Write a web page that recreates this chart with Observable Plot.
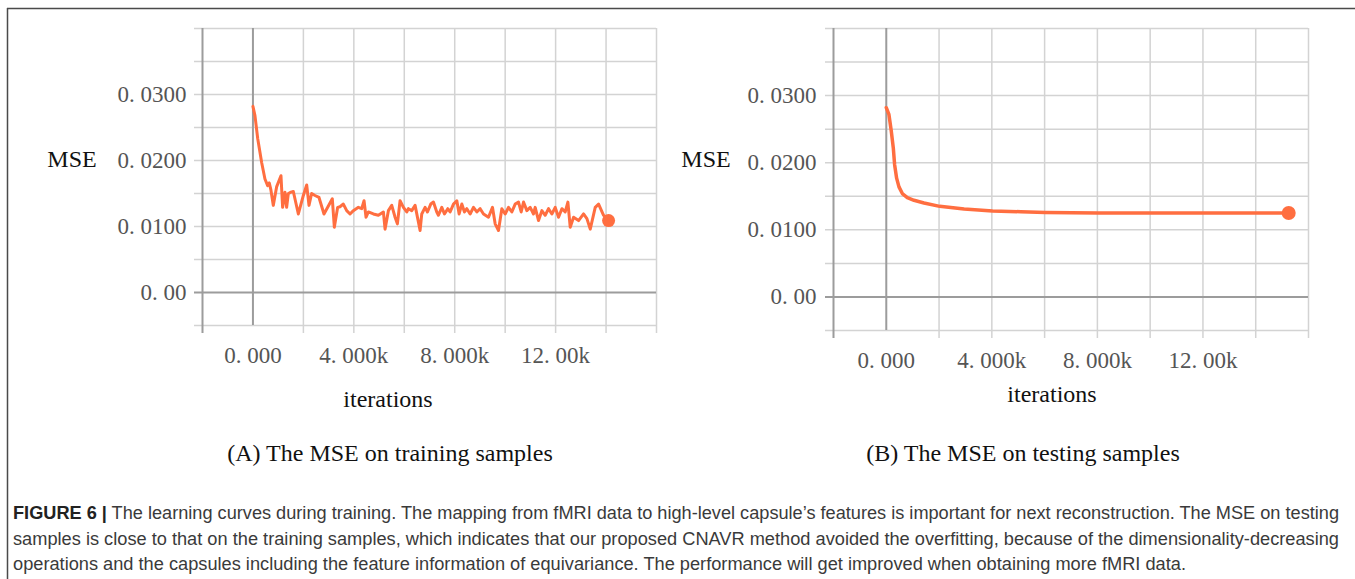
<!DOCTYPE html>
<html>
<head>
<meta charset="utf-8">
<script src="https://cdn.jsdelivr.net/npm/d3@7"></script>
<script src="https://cdn.jsdelivr.net/npm/@observablehq/plot@0.6"></script>
<style>
  html, body { margin: 0; padding: 0; background: #fff; }
  #root { position: relative; width: 1355px; height: 579px; background: #fff; overflow: hidden; }
  #left, #right, #overlay { position: absolute; top: 0; }
  #left { left: 0; }
  #right { left: 680px; }
  #overlay { left: 0; pointer-events: none; }
</style>
</head>
<body>
<div id="root">
  <div id="left"></div>
  <div id="right"></div>
  <div id="overlay"></div>
</div>
<script>
// ---- data ----
const trainIter = [0, 80, 190, 345, 476, 583, 647, 714, 806, 938, 1111, 1177, 1270, 1336, 1402, 1508, 1601, 1800, 1998, 2131, 2222, 2327, 2460, 2619, 2817, 3147, 3227, 3359, 3450, 3585, 3717, 3849, 3981, 4180, 4312, 4405, 4484, 4577, 4775, 4973, 5172, 5238, 5370, 5503, 5635, 5727, 5833, 5966, 6098, 6164, 6296, 6429, 6627, 6693, 6825, 6918, 7050, 7156, 7288, 7354, 7487, 7593, 7725, 7817, 7950, 8083, 8175, 8281, 8386, 8480, 8611, 8743, 8876, 9008, 9141, 9339, 9497, 9603, 9735, 9868, 10000, 10132, 10265, 10397, 10529, 10635, 10728, 10860, 10992, 11124, 11190, 11322, 11455, 11587, 11720, 11852, 11984, 12116, 12249, 12381, 12487, 12579, 12712, 12910, 13108, 13241, 13373, 13571, 13704, 13902, 14100];
const trainMse = [0.0282, 0.0268, 0.0233, 0.0197, 0.0172, 0.0162, 0.0166, 0.0155, 0.0132, 0.0160, 0.0177, 0.0129, 0.0152, 0.0129, 0.0150, 0.0152, 0.0153, 0.0119, 0.0147, 0.0163, 0.0132, 0.0150, 0.0147, 0.0144, 0.0119, 0.0142, 0.0099, 0.0129, 0.0130, 0.0134, 0.0124, 0.0119, 0.0124, 0.0129, 0.0127, 0.0139, 0.0114, 0.0122, 0.0119, 0.0117, 0.0122, 0.0096, 0.0124, 0.0132, 0.0114, 0.0104, 0.0139, 0.0129, 0.0122, 0.0127, 0.0124, 0.0132, 0.0094, 0.0119, 0.0129, 0.0122, 0.0134, 0.0137, 0.0122, 0.0117, 0.0129, 0.0119, 0.0127, 0.0122, 0.0134, 0.0139, 0.0119, 0.0134, 0.0122, 0.0127, 0.0119, 0.0129, 0.0122, 0.0127, 0.0119, 0.0114, 0.0129, 0.0104, 0.0094, 0.0127, 0.0119, 0.0129, 0.0122, 0.0134, 0.0137, 0.0122, 0.0137, 0.0124, 0.0129, 0.0119, 0.0129, 0.0109, 0.0124, 0.0117, 0.0127, 0.0119, 0.0129, 0.0114, 0.0127, 0.0122, 0.0137, 0.0099, 0.0114, 0.0109, 0.0119, 0.0112, 0.0096, 0.0129, 0.0134, 0.0117, 0.0109];

const testIter = [0, 100, 190, 266, 316, 392, 481, 608, 797, 1050, 1430, 2025, 2950, 4025, 5100, 6025, 8025, 10000, 12000, 14000, 15250];
const testMse = [0.0282, 0.0272, 0.0247, 0.0222, 0.0197, 0.0177, 0.0164, 0.0154, 0.0148, 0.0144, 0.0140, 0.0135, 0.0131, 0.0128, 0.0127, 0.0126, 0.0125, 0.0125, 0.0125, 0.0125, 0.0125];

const xGridTicks = [-2000, 0, 2000, 4000, 6000, 8000, 10000, 12000, 14000, 16000];
const yGridTicks = [-0.005, 0, 0.005, 0.01, 0.015, 0.02, 0.025, 0.03, 0.035, 0.04];
const xLabelTicks = [0, 4000, 8000, 12000];
const xTickLabels = ["0. 000", "4. 000k", "8. 000k", "12. 00k"];
const yLabelTicks = [0, 0.01, 0.02, 0.03];
const yTickLabels = ["0. 00", "0. 0100", "0. 0200", "0. 0300"];

const yAxisTitle = "MSE";
const xAxisTitle = "iterations";
const panelTitles = ["(A) The MSE on training samples", "(B) The MSE on testing samples"];
const figureLabel = "FIGURE 6 |";
const captionLines = [
  " The learning curves during training. The mapping from fMRI data to high-level capsule\u2019s features is important for next reconstruction. The MSE on testing",
  "samples is close to that on the training samples, which indicates that our proposed CNAVR method avoided the overfitting, because of the dimensionality-decreasing",
  "operations and the capsules including the feature information of equivariance. The performance will get improved when obtaining more fMRI data."
];

// ---- chart ----
const xFmt = new Map(xLabelTicks.map((d, i) => [d, xTickLabels[i]]));
const yFmt = new Map(yLabelTicks.map((d, i) => [d, yTickLabels[i]]));
const LINE = "#ff6e40";
const GRID = "#d3d3d3";
const AXIS = "#9c9c9c";

function makeChart({iter, mse, width, height, marginLeft, marginRight, marginTop, marginBottom, strokeWidth, r, yPad}) {
  const data = iter.map((x, i) => ({x, y: mse[i]}));
  const last = data[data.length - 1];
  return Plot.plot({
    width, height, marginLeft, marginRight, marginTop, marginBottom,
    x: {domain: [-2000, 16000], label: null},
    y: {domain: [-0.005, 0.04], label: null},
    style: {fontFamily: "'Liberation Serif', 'DejaVu Serif', serif", fontSize: "23px", color: "#555", background: "transparent", overflow: "visible"},
    marks: [
      Plot.ruleX(xGridTicks.filter(d => d !== 0 && d !== -2000), {stroke: GRID, strokeWidth: 1.5, insetBottom: -8}),
      Plot.ruleY(yGridTicks.filter(d => d !== 0), {stroke: GRID, strokeWidth: 1.5, insetLeft: -8}),
      Plot.ruleX([-2000], {stroke: AXIS, strokeWidth: 2, insetBottom: -8}),
      Plot.ruleX([0], {stroke: AXIS, strokeWidth: 2}),
      Plot.ruleY([0], {stroke: AXIS, strokeWidth: 2, insetLeft: -8}),
      Plot.axisX(xLabelTicks, {tickSize: 0, tickPadding: 21, tickFormat: d => xFmt.get(d), label: null, fontSize: 23}),
      Plot.axisY(yLabelTicks, {tickSize: 0, tickPadding: yPad, tickFormat: d => yFmt.get(d), label: null, fontSize: 23}),
      Plot.line(data, {x: "x", y: "y", stroke: LINE, strokeWidth, strokeLinejoin: "round"}),
      Plot.dot([last], {x: "x", y: "y", r, fill: LINE, stroke: "none"})
    ]
  });
}

document.getElementById("left").append(makeChart({
  iter: trainIter, mse: trainMse, width: 680, height: 370,
  marginLeft: 202, marginRight: 24, marginTop: 28, marginBottom: 45,
  strokeWidth: 3, r: 6.5, yPad: 16
}));
document.getElementById("right").append(makeChart({
  iter: testIter, mse: testMse, width: 675, height: 375,
  marginLeft: 153, marginRight: 47, marginTop: 28, marginBottom: 45,
  strokeWidth: 3.5, r: 7, yPad: 17
}));

// ---- overlay text & frame ----
const svg = d3.select("#overlay").append("svg")
  .attr("width", 1355).attr("height", 579);

svg.append("line").attr("x1", 7).attr("x2", 1355).attr("y1", 8.5).attr("y2", 8.5)
  .attr("stroke", "#4a4a4a").attr("stroke-width", 1.5);
svg.append("line").attr("x1", 7.5).attr("x2", 7.5).attr("y1", 8).attr("y2", 579)
  .attr("stroke", "#4a4a4a").attr("stroke-width", 1.5);

const serif = "'Liberation Serif', 'DejaVu Serif', serif";
function t(x, y, text, size, anchor) {
  svg.append("text").attr("x", x).attr("y", y).attr("text-anchor", anchor || "middle")
    .attr("font-family", serif).attr("font-size", size).attr("fill", "#111").text(text);
}
t(72, 166.5, yAxisTitle, 24);
t(706, 166.5, yAxisTitle, 24);
t(388, 407, xAxisTitle, 24);
t(1052, 401.5, xAxisTitle, 24);
t(390, 461, panelTitles[0], 24);
t(1023, 461, panelTitles[1], 24);

const sans = "'Liberation Sans', Arial, 'Helvetica', sans-serif";
const capY = [519, 545, 570];
const capLen = [1326, 1326, 1173];
captionLines.forEach((line, i) => {
  const tx = svg.append("text").attr("x", 13).attr("y", capY[i])
    .attr("font-family", sans).attr("font-size", 17.5).attr("fill", "#3a3a3a")
    .attr("textLength", capLen[i]).attr("lengthAdjust", "spacingAndGlyphs");
  if (i === 0) tx.append("tspan").attr("font-weight", "bold").attr("fill", "#222").text(figureLabel);
  tx.append("tspan").text(line);
});
</script>
</body>
</html>
